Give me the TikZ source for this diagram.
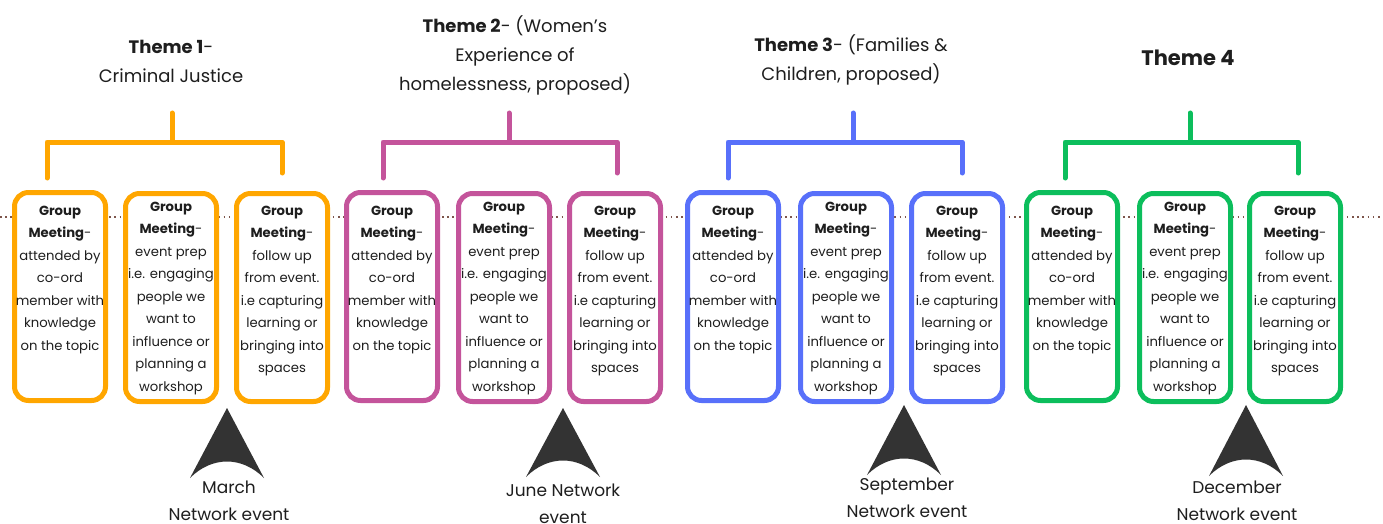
\documentclass[tikz,border=0pt]{standalone}
\usepackage{fontspec}
\setmainfont{Poppins}
\definecolor{thOrange}{RGB}{255,166,0}
\definecolor{thPink}{RGB}{196,84,155}
\definecolor{thBlue}{RGB}{88,112,250}
\definecolor{thGreen}{RGB}{12,190,92}
\definecolor{dotc}{RGB}{125,85,75}
\definecolor{arrowc}{RGB}{51,51,51}
\definecolor{txt}{RGB}{30,30,30}
\begin{document}
\begin{tikzpicture}[x=1pt,y=-1pt,
  box/.style={draw=#1, line width=5pt, rounded corners=14pt, fill=white,
    minimum width=91pt, minimum height=208pt, inner sep=0pt},
  boxtext/.style={anchor=north, align=center, inner sep=0pt, text=txt,
    font=\fontsize{13.2}{22.5}\selectfont},
  bracket/.style={draw=#1, line width=5pt, line cap=round, line join=round},
  title/.style={align=center, inner sep=0pt, text=txt,
    font=\fontsize{18}{29}\selectfont},
  evlabel/.style={align=center, inner sep=0pt, text=txt,
    font=\fontsize{17}{27}\selectfont},
  evarrow/.style={fill=arrowc, draw=none}]
\useasboundingbox (0,0) rectangle (1383,524);
% dotted timeline
\coordinate (tlL) at (0,217);
\coordinate (tlR) at (1383,217);
\draw[dotc, line width=1.6pt, dash pattern=on 1.6pt off 3.6pt] (tlL) -- (tlR);
% boxes
\foreach \col/\nm/\xa/\xb/\xc in {thOrange/o/60/171/282, thPink/p/392/504/615, thBlue/b/733/846/957, thGreen/g/1072/1185/1295}{
  \node[box=\col] (\nm1) at (\xa,296.5) {};
  \node[box=\col] (\nm2) at (\xb,297.5) {};
  \node[box=\col] (\nm3) at (\xc,297.5) {};
  \node[boxtext] (\nm1t) at (\xa,205.5) {\textbf{Group}\\\textbf{Meeting}-\\attended by\\co-ord\\member with\\knowledge\\on the topic};
  \node[boxtext] (\nm2t) at (\xb,201.5) {\textbf{Group}\\\textbf{Meeting}-\\event prep\\i.e. engaging\\people we\\want to\\influence or\\planning a\\workshop};
  \node[boxtext] (\nm3t) at (\xc,205.5) {\textbf{Group}\\\textbf{Meeting}-\\follow up\\from event.\\i.e capturing\\learning or\\bringing into\\spaces};
}
% brackets
\foreach \col/\nm/\xl/\xr/\xs in {thOrange/o/47/282/172, thPink/p/383/617/509, thBlue/b/728/962/853, thGreen/g/1065/1298/1190}{
  \coordinate (\nm L) at (\xl,178);
  \coordinate (\nm LT) at (\xl,142);
  \coordinate (\nm RT) at (\xr,142);
  \coordinate (\nm R) at (\xr,173);
  \coordinate (\nm S) at (\xs,113);
  \coordinate (\nm M) at (\xs,142);
  \draw[bracket=\col] (\nm L) -- (\nm LT) -- (\nm RT) -- (\nm R);
  \draw[bracket=\col] (\nm M) -- (\nm S);
}
% titles
\node[title] (th1) at (171,61) {\textbf{Theme 1}-\\Criminal Justice};
\node[title] (th2) at (515,55) {\textbf{Theme 2}- (Women’s\\Experience of\\homelessness, proposed)};
\node[title] (th3) at (851,59.5) {\textbf{Theme 3}- (Families \&\\Children, proposed)};
\node[title, font=\fontsize{21}{26}\selectfont] (th4) at (1188,58) {\textbf{Theme 4}};
% event arrows
\foreach \nm/\cx/\ty/\by in {a1/227/408/478, a2/563/408/477, a3/904/405/475, a4/1246/405/476}{
  \path[evarrow] (\cx,\ty) -- (\cx-37,\by) .. controls (\cx-15,\by-22) and (\cx+15,\by-22) .. (\cx+37,\by) -- cycle;
}
% event labels
\node[evlabel] (e1) at (229,500.5) {March\\Network event};
\node[evlabel] (e2) at (563,503.5) {June Network\\event};
\node[evlabel] (e3) at (907,497.5) {September\\Network event};
\node[evlabel] (e4) at (1237,500.5) {December\\Network event};
\end{tikzpicture}
\end{document}
